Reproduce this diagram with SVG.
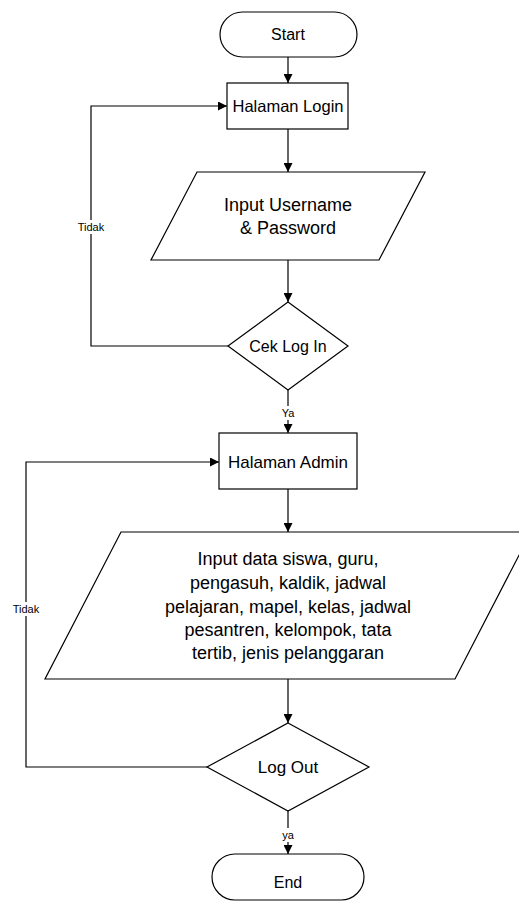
<svg xmlns="http://www.w3.org/2000/svg" width="519" height="903" viewBox="0 0 519 903">
<style>
.s{fill:#fff;stroke:#000;stroke-width:1.2}
.t{font-family:"Liberation Sans",Arial,sans-serif;font-size:16px;fill:#000;text-anchor:middle;dominant-baseline:central}
.b{font-size:18px}
.l{font-family:"Liberation Sans",Arial,sans-serif;font-size:11px;fill:#000;text-anchor:middle;dominant-baseline:central}
.c{fill:none;stroke:#000;stroke-width:1.2}
</style>
<defs>
<marker id="a" viewBox="0 0 10 10" refX="10" refY="5" markerWidth="9" markerHeight="9" markerUnits="userSpaceOnUse" orient="auto">
<path d="M0,0 L10,5 L0,10 z" fill="#000"/>
</marker>
</defs>
<rect width="519" height="903" fill="#fff"/>
<g id="connectors">
<path class="c" d="M288,57 V83" marker-end="url(#a)"/>
<path class="c" d="M288,129 V172" marker-end="url(#a)"/>
<path class="c" d="M288,260 V302" marker-end="url(#a)"/>
<path class="c" d="M228,346 H91 V106 H227" marker-end="url(#a)"/>
<path class="c" d="M288,390 V433" marker-end="url(#a)"/>
<path class="c" d="M288,489 V532" marker-end="url(#a)"/>
<path class="c" d="M288,679 V723" marker-end="url(#a)"/>
<path class="c" d="M207,767 H26 V462 H219" marker-end="url(#a)"/>
<path class="c" d="M288,811 V854" marker-end="url(#a)"/>
<rect x="76" y="220" width="30" height="14" fill="#fff"/>
<text class="l" x="91" y="227">Tidak</text>
<rect x="279" y="406" width="18" height="14" fill="#fff"/>
<text class="l" x="288" y="413">Ya</text>
<rect x="11" y="602" width="30" height="14" fill="#fff"/>
<text class="l" x="26" y="609">Tidak</text>
<rect x="279" y="828" width="18" height="14" fill="#fff"/>
<text class="l" x="288" y="835">ya</text>
</g>
<g id="start">
<rect class="s" x="220" y="12" width="137" height="45" rx="22.5"/>
<text class="t" x="288" y="34">Start</text>
</g>
<g id="login">
<rect class="s" x="227" y="83" width="121" height="46"/>
<text class="t" x="288" y="106" style="font-size:16.5px">Halaman Login</text>
</g>
<g id="inputLogin">
<path class="s" d="M197,172 H425 L379,260 H151 Z"/>
<text class="t b" x="288" y="205">Input Username</text>
<text class="t b" x="288" y="228">&amp; Password</text>
</g>
<g id="cekLogin">
<path class="s" d="M288,302 L348,346 L288,390 L228,346 Z"/>
<text class="t" x="288" y="346">Cek Log In</text>
</g>
<g id="admin">
<rect class="s" x="219" y="433" width="138" height="56"/>
<text class="t" x="288" y="462" style="font-size:17px">Halaman Admin</text>
</g>
<g id="inputData">
<path class="s" d="M121,532 H531 L455,679 H45 Z"/>
<text class="t b" x="288" y="559">Input data siswa, guru,</text>
<text class="t b" x="288" y="583">pengasuh, kaldik, jadwal</text>
<text class="t b" x="288" y="607">pelajaran, mapel, kelas, jadwal</text>
<text class="t b" x="288" y="630">pesantren, kelompok, tata</text>
<text class="t b" x="288" y="653">tertib, jenis pelanggaran</text>
</g>
<g id="logout">
<path class="s" d="M288,723 L369,767 L288,811 L207,767 Z"/>
<text class="t" x="288" y="767" style="font-size:17px">Log Out</text>
</g>
<g id="end">
<rect class="s" x="212" y="854" width="152" height="46" rx="23"/>
<text class="t" x="288" y="882">End</text>
</g>
</svg>
